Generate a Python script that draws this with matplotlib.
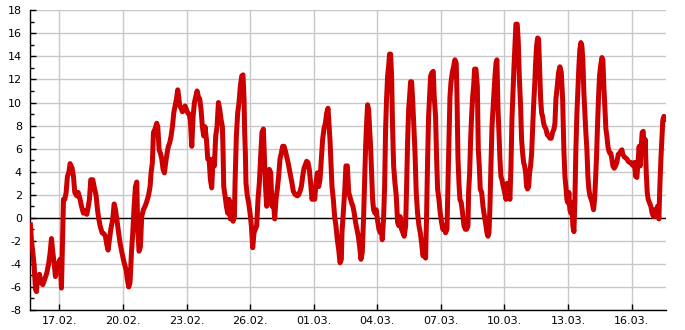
import matplotlib
matplotlib.use("Agg")
import matplotlib.pyplot as plt
import matplotlib.dates as mdates
from matplotlib.ticker import MultipleLocator
import pandas as pd

# Time of each reading, hours after 15.02.2023 00:00
hours = [
    15.0, 16.3, 17.9, 19.4, 20.9, 22.0, 23.1, 25.4, 26.9, 29.2, 31.4, 33.7, 36.0, 37.5, 39.0, 40.5,
    42.0, 43.5, 45.0, 47.3, 48.8, 50.3, 51.8, 52.6, 54.1, 55.6, 57.1, 58.6, 60.1, 62.4, 63.9, 65.4,
    67.7, 69.2, 71.4, 73.0, 75.2, 77.5, 79.0, 80.5, 82.0, 83.5, 85.8, 87.3, 89.6, 91.1, 92.6, 94.1,
    96.3, 98.6, 100.1, 101.6, 103.1, 104.7, 106.2, 108.4, 110.0, 111.5, 113.0, 114.5, 116.7, 119.0,
    121.3, 123.5, 125.0, 126.5, 128.0, 129.6, 131.1, 132.6, 134.1, 135.6,
    136.7, 138.2, 139.7, 141.2, 143.1, 145.0, 146.9, 148.8, 150.7, 151.8, 153.3, 154.5, 156.3, 158.2,
    159.4, 160.9, 162.4, 163.9, 165.4, 166.9, 168.4, 169.9, 171.4, 172.9, 174.5, 176.0, 177.5, 179.0,
    180.5, 182.0, 183.1, 184.3, 185.8, 187.3, 188.8, 190.3, 191.8, 193.3, 194.8, 196.3, 197.9, 199.4,
    200.9, 202.4, 203.9, 205.4, 206.9, 208.4, 209.9, 211.4, 212.9, 214.5, 216.0, 217.5, 219.0, 220.5,
    222.0, 223.5, 225.0, 226.5, 228.1, 229.6, 231.1, 232.6, 233.3, 234.1, 235.6, 237.1, 238.6, 240.1,
    241.6, 243.1, 244.7, 246.2, 246.9, 248.4, 249.9, 251.4, 252.9, 254.5,
    255.9, 257.1, 257.8, 258.6, 259.3, 260.8, 262.3, 263.9, 265.4, 266.9, 268.4, 269.9, 271.4, 272.9,
    274.4, 275.9, 277.4, 279.0, 279.7, 281.2, 282.7, 284.2, 285.7, 287.3, 288.8, 290.3, 291.8, 293.3,
    294.8, 296.3, 297.8, 299.3, 300.8, 302.4, 303.9, 305.4, 306.9, 308.4, 309.9, 311.4, 312.9, 315.2,
    317.5, 319.0, 320.5, 322.0, 323.5, 325.0, 326.5, 328.0, 329.5, 331.0, 332.5, 334.1, 335.6, 337.1,
    338.6, 340.1, 341.6, 343.1, 344.6, 346.1, 347.6, 349.2, 350.7, 352.2, 353.7, 354.4, 355.2, 356.7,
    358.2, 359.7, 361.2, 362.7, 364.2, 365.8, 367.3, 368.0, 369.5, 371.0, 372.5, 374.1, 375.6, 377.8,
    378.9, 380.4, 381.9, 383.4, 385.0, 386.5, 388.0, 389.5, 391.0, 392.5, 393.6, 394.8, 395.9, 397.0,
    398.2, 399.3, 400.4, 401.6, 402.7, 403.8, 405.3, 406.8, 408.4, 409.9, 411.4, 412.9, 413.6, 415.1,
    416.3, 417.4, 418.5, 419.7, 420.8, 421.9, 423.1, 424.2, 425.3, 426.5, 428.0, 429.5, 431.0, 432.5,
    434.0, 435.5, 437.0, 438.5, 440.1, 441.2, 442.3, 443.5, 444.6, 445.7, 446.9, 448.0, 449.1, 450.6,
    452.1, 453.6, 455.2, 456.7, 458.2, 459.7, 461.2, 462.7, 463.8, 465.0, 466.1, 467.2, 468.4, 469.9,
    471.4, 472.5, 474.0, 475.2, 476.3, 477.8, 479.3, 480.8, 482.3, 483.8, 485.3, 486.9, 488.0, 489.1,
    490.3, 491.4, 492.9, 494.4, 495.9, 497.4,
    498.2, 499.4, 500.5, 501.6, 503.1, 504.6, 506.2, 507.7, 509.2, 510.7, 511.4, 512.6, 513.7, 514.8,
    516.0, 517.1, 518.2, 519.7, 521.3, 522.4, 523.5, 524.6, 526.2, 527.7, 528.8, 529.9, 531.1, 532.2,
    533.3, 534.5, 535.6, 536.7, 537.9, 539.0, 540.1, 541.3, 542.4, 543.5, 544.7, 545.8, 546.9, 548.0,
    549.2, 550.7, 552.2, 553.7, 555.2, 556.7, 558.2, 559.4, 560.5, 561.6, 562.8, 563.9, 565.0, 566.5,
    567.7, 568.8, 570.3, 571.4, 572.6, 573.7, 574.8, 576.0, 577.1, 578.2, 579.4, 580.5, 581.6, 582.8,
    583.9, 585.0, 586.2, 587.3, 588.4, 589.6, 590.7, 591.8, 593.0, 594.1, 595.2, 596.4, 597.5, 599.0,
    600.5, 602.0, 603.5, 605.0, 606.5, 608.1, 609.2, 610.3, 611.8, 613.3, 614.8, 616.4, 617.9,
    619.3, 620.5, 621.6, 622.7, 623.9, 625.0, 626.1, 627.3, 628.4, 629.5, 630.7, 631.8, 632.9, 634.1,
    635.2, 636.3, 637.4, 638.6, 639.7, 640.8, 642.0, 643.1, 644.2, 645.4, 646.5, 647.6, 648.8, 650.3,
    651.4, 652.9, 654.1, 655.2, 656.3, 657.5, 658.6, 659.7, 660.8, 662.4, 663.5, 664.6, 665.8, 666.9,
    668.0, 669.2, 670.3, 671.4, 672.5, 673.7, 674.8, 676.3, 677.8, 679.3, 680.9, 682.4, 683.9, 685.0,
    686.1, 687.6, 689.2, 690.7, 692.2, 693.7, 695.2, 696.7, 698.2, 699.3, 700.5, 702.0, 703.5, 704.6,
    705.8, 706.9, 708.0, 709.2, 710.3, 711.4, 712.6, 713.7, 714.8, 716.3, 717.8, 719.3, 720.9, 722.4,
    723.9, 725.4, 726.9, 728.0, 729.2, 730.3, 731.4, 732.6, 733.7, 734.8,
]

# Temperature readings (°C)
temps = [
    -0.4, -1.9, -3.0, -4.2, -6.2, -6.4, -5.3, -4.9, -5.6, -5.8, -5.3, -4.8, -3.9, -3.0, -1.8, -3.0,
    -3.9, -5.1, -4.2, -3.9, -3.6, -6.1, -1.0, 1.6, 1.6, 2.2, 3.6, 3.9, 4.7, 4.3, 3.6, 2.2,
    1.9, 2.2, 1.6, 1.0, 0.4, 0.6, 0.3, 0.9, 1.6, 3.3, 3.3, 2.7, 1.9, 0.7, -0.1, -0.7,
    -1.3, -1.4, -1.6, -2.3, -2.8, -1.9, -1.0, -0.1, 1.2, 0.7, -0.1, -1.0, -2.2, -3.1,
    -3.9, -4.5, -5.4, -6.0, -5.6, -3.0, -1.3, 1.0, 2.7, 3.1,
    -1.0, -2.9, -2.5, 0.1, 0.7, 1.0, 1.4, 1.9, 2.7, 3.9, 4.8, 7.4, 7.7, 8.2,
    7.9, 5.9, 5.6, 5.1, 4.2, 3.9, 4.8, 5.6, 6.2, 6.5, 7.1, 7.9, 9.1, 9.7,
    10.3, 11.1, 10.5, 9.7, 9.5, 9.2, 9.5, 9.7, 9.4, 9.1, 9.0, 8.5, 6.2, 8.8,
    10.0, 10.5, 11.0, 10.5, 10.3, 9.4, 7.9, 7.1, 7.9, 6.8, 5.1, 5.1, 3.3, 2.6,
    5.1, 4.5, 7.1, 7.9, 10.0, 9.4, 8.5, 7.9, 5.9, 2.7, 1.9, 1.0, 0.4, 1.6,
    -0.1, 1.3, -0.3, 0.1, 3.0, 7.1, 9.1, 10.0, 11.4, 12.3,
    12.4, 10.3, 7.4, 5.6, 3.0, 1.9, 1.3, 0.4, -0.7, -2.6, -1.3, -1.0, -0.7, 1.6,
    3.0, 5.3, 7.4, 7.7, 6.2, 3.0, 1.0, 2.2, 4.2, 3.9, 1.0, 1.6, -0.1, 1.6,
    2.5, 3.6, 5.1, 5.6, 6.2, 6.2, 5.8, 5.3, 4.8, 4.2, 3.6, 3.0, 2.3, 2.0,
    1.9, 2.0, 2.3, 2.7, 3.6, 4.3, 4.6, 4.9, 4.8, 4.2, 3.0, 1.6, 2.2, 1.6,
    3.0, 3.9, 2.7, 3.3, 5.1, 6.8, 7.7, 8.2, 9.1, 9.5, 7.7, 6.8, 5.3, 2.7,
    1.6, 0.1, -0.7, -1.9, -2.7, -3.9, -3.6, -1.3, 0.4, 2.2, 4.5, 4.5, 2.2, 1.6,
    1.3, 1.0, 0.4, -0.4, -1.0, -1.6, -2.5, -3.6, -3.0, 0.1, 3.0, 6.2, 8.2, 9.8,
    9.4, 7.7, 6.2, 3.9, 1.6, 0.7, 0.4, 0.7, -0.3, -1.0, -1.3, -1.0, -1.9, -0.1,
    2.7, 7.7, 10.3, 12.3, 13.1, 14.2, 14.2, 12.3, 7.9, 4.5, 3.0, 1.9, -0.4, -0.7,
    0.1, -1.0, -1.3, -1.6, -0.7, 2.7, 6.5, 9.4, 10.5, 11.8, 11.8, 10.3, 8.5, 5.9,
    2.2, 0.4, -0.7, -1.3, -2.2, -3.3, -3.0, -3.5, 0.1, 5.1, 8.8, 10.5, 12.3, 12.6,
    12.7, 10.5, 8.8, 5.1, 2.5, 1.6, 0.4, -0.4, -1.0, -0.7, -1.3, -1.0, 2.7, 6.8,
    10.5, 11.7, 12.6, 13.1, 13.7, 13.4,
    10.8, 5.1, 3.0, 1.6, 1.3, 0.4, -0.7, -1.0, -1.0, -0.7, 2.2, 3.9, 6.8, 8.8,
    10.5, 11.4, 12.9, 12.9, 11.4, 5.9, 4.5, 2.5, 2.2, 1.0, 0.4, -0.1, -0.7, -1.3,
    -1.6, -1.3, 1.0, 4.5, 7.9, 9.4, 10.8, 12.3, 13.4, 13.7, 9.4, 7.4, 5.1, 3.6,
    3.3, 2.7, 2.2, 1.6, 3.0, 2.2, 1.6, 4.5, 8.5, 10.8, 13.1, 14.9, 16.8, 16.8,
    15.2, 12.3, 9.7, 6.8, 5.6, 4.8, 4.5, 3.9, 2.7, 2.5, 2.7, 3.9, 4.5, 5.6,
    7.7, 9.7, 11.4, 13.4, 14.9, 15.6, 15.5, 13.1, 10.3, 9.1, 8.8, 8.2, 7.9, 7.7,
    7.2, 7.1, 6.9, 6.9, 7.4, 7.7, 8.2, 10.3, 11.4, 12.6, 13.1, 12.6, 10.3,
    5.9, 3.6, 2.7, 1.6, 1.3, 2.2, 0.7, 0.4, 1.3, -0.7, -1.2, 1.6, 5.9, 9.1,
    11.1, 13.1, 14.6, 15.2, 14.9, 13.7, 10.8, 9.1, 7.4, 5.9, 3.6, 2.5, 1.9, 1.6,
    1.3, 0.7, 1.6, 3.3, 5.3, 8.2, 10.5, 12.3, 13.1, 13.9, 13.7, 11.4, 9.4, 7.7,
    7.1, 6.2, 5.8, 5.6, 5.6, 5.1, 4.5, 4.3, 4.5, 4.8, 5.5, 5.6, 5.8, 5.9,
    5.5, 5.3, 5.2, 5.1, 4.9, 4.8, 4.8, 4.6, 4.5, 4.8, 3.6, 3.5, 5.1, 6.2,
    4.5, 6.2, 7.4, 7.5, 5.6, 6.8, 3.9, 2.2, 1.6, 1.3, 1.0, 0.4, 0.1, 0.7,
    0.4, 1.0, -0.1, 2.7, 5.1, 6.8, 8.5, 8.8, 8.5, 8.8,
]

start_date = "2023-02-15 00:00"
x_range = ["2023-02-15 15:00", "2023-03-17 15:00"]
tick_dates = ["2023-02-17", "2023-02-20", "2023-02-23", "2023-02-26", "2023-03-01",
              "2023-03-04", "2023-03-07", "2023-03-10", "2023-03-13", "2023-03-16"]
y_range = [-8, 18]

plt.rcParams["font.family"] = ["DejaVu Sans"]
plt.rcParams["axes.unicode_minus"] = False

times = pd.Timestamp(start_date) + pd.to_timedelta(hours, unit="h")

fig = plt.figure(figsize=(6.85, 3.30), dpi=100)
ax = fig.add_axes([0.0442, 0.0606, 0.9281, 0.9082])

ax.plot(times, temps, color="#cc0000", linewidth=3.6, solid_joinstyle="round",
        solid_capstyle="butt", zorder=3, clip_on=True)
ax.axhline(0, color="black", linewidth=1.0, zorder=2)

ax.set_xlim(pd.Timestamp(x_range[0]), pd.Timestamp(x_range[1]))
ax.set_ylim(*y_range)

ax.set_xticks([pd.Timestamp(d) for d in tick_dates])
ax.xaxis.set_major_formatter(mdates.DateFormatter("%d.%m."))
ax.yaxis.set_major_locator(MultipleLocator(2))
ax.yaxis.set_minor_locator(MultipleLocator(1))

ax.grid(True, which="major", color="#c8c8c8", linewidth=1.0, zorder=0)
ax.set_axisbelow(True)

for side in ["top", "right"]:
    ax.spines[side].set_visible(False)
for side in ["left", "bottom"]:
    ax.spines[side].set_color("black")
    ax.spines[side].set_linewidth(1.0)

ax.tick_params(axis="y", which="major", direction="in", length=4, width=1, labelsize=8, pad=6, colors="black")
ax.tick_params(axis="y", which="minor", direction="in", length=3, width=1)
ax.tick_params(axis="x", which="major", direction="in", length=4, width=1, labelsize=8, pad=4, colors="black")
ax.tick_params(axis="x", which="minor", length=0)

fig.savefig("out.png", dpi=100)
